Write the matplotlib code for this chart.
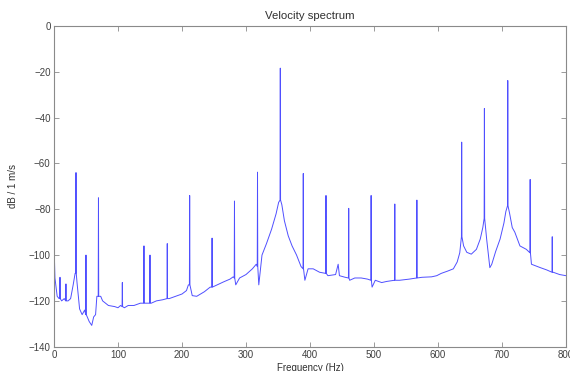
"""Velocity spectrum — MATLAB-style line plot of a harmonic spectrum."""

import matplotlib
matplotlib.use("Agg")
import matplotlib.pyplot as plt
import numpy as np

LINE = "#4f4fff"
AXIS = "#8a8a8a"
TEXT = "#404040"

# broadband floor of the spectrum (Hz, dB)
floor_hz = [0, 1.5, 5, 8, 12, 16, 22, 26, 30, 33, 36, 40, 44, 48, 52, 55, 59,
            62, 65, 67, 73, 76, 85, 95, 100, 104, 110, 116, 125, 135, 143, 152,
            160, 170, 180, 190, 200, 207, 210, 216, 223, 235, 244, 255, 265,
            275, 280, 284, 290, 300, 310, 316, 320, 325, 332, 340, 347, 351,
            356, 360, 366, 372, 379, 386, 392, 397, 405, 415, 424, 428, 440,
            444, 446, 455, 462, 470, 480, 490, 497, 502, 512, 520, 540, 555,
            575, 590, 598, 605, 615, 624, 630, 634, 640, 645, 652, 660, 666,
            670, 676, 681, 684, 690, 697, 703, 706, 712, 716, 720, 728, 738,
            746, 760, 770, 780, 790, 800]
floor_db = [-94.5, -110, -118, -119, -120, -119, -120, -119, -113, -108, -112,
            -123.5, -126, -124, -127, -129, -130.7, -127, -126, -118, -118,
            -120, -122, -122.5, -123, -122, -123, -122, -122, -121, -121, -121,
            -120, -119.5, -119, -118, -117, -115.5, -113, -117.7, -118, -116,
            -114, -113, -111.7, -110.5, -109.5, -113, -110, -108.5, -106, -104,
            -113, -100, -95, -88.7, -82, -77, -78, -85, -91.6, -96, -100, -105,
            -111, -106, -106, -107.5, -108, -109, -108.5, -104, -109, -109.7,
            -111, -110, -110, -110.5, -114, -111, -112, -111.5, -111, -110.5,
            -109.7, -109.5, -109, -108, -107, -106, -103, -99, -96, -98.8,
            -99.6, -97.5, -93, -88, -93, -105.5, -104, -98.5, -93, -86, -81,
            -82, -88, -90, -96, -97.5, -104, -105.5, -106.5, -107.5, -108.5,
            -109]

# narrow tonal lines: frequency, top level and level at their foot
peak_hz = [9.4, 18.7, 34.4, 50, 69.5, 106.8, 140.6, 150, 177, 212, 247, 282,
           318, 353.6, 389.5, 425, 460.5, 495.5, 532.5, 567, 637, 672.5, 709,
           744, 778.5]
peak_db = [-109.7, -112.6, -64, -100, -75, -112, -96, -100, -95, -74, -92.6,
           -76.4, -63.8, -18.4, -64.4, -74, -79.6, -74, -77.7, -76, -50.7, -36,
           -23.8, -67, -92]
peak_base_db = [-119, -120, -108, -126, -118, -122.5, -121, -121, -119, -113,
                -114, -110, -105, -76, -106, -108, -110, -111, -111, -110, -92,
                -84, -78.5, -99, -107.5]

x_ticks = [0, 100, 200, 300, 400, 500, 600, 700, 800]
y_ticks = [0, -20, -40, -60, -80, -100, -120, -140]


def _trace():
    pts = list(zip(floor_hz, floor_db))
    for f, top, base in zip(peak_hz, peak_db, peak_base_db):
        pts += [(f - 0.4, base), (f, top), (f + 0.4, base)]
    pts.sort(key=lambda p: p[0])
    arr = np.array(pts)
    return arr[:, 0], arr[:, 1]


plt.rcParams["font.family"] = ["Liberation Sans", "DejaVu Sans"]

fig = plt.figure(figsize=(5.70, 3.71), dpi=100)
ax = fig.add_axes([0.0947, 0.0655, 0.8983, 0.8644])

hz, db = _trace()
ax.plot(hz, db, color=LINE, linewidth=0.7)

ax.set_xlim(0, 800)
ax.set_ylim(-140, 0)
ax.set_xticks(x_ticks)
ax.set_yticks(y_ticks)
ax.tick_params(direction="in", length=3.5, width=0.6, colors=AXIS,
               labelcolor=TEXT, labelsize=7, top=True, right=True, pad=2.5)
for s in ax.spines.values():
    s.set_color(AXIS)
    s.set_linewidth(0.8)

ax.set_title("Velocity spectrum", fontsize=8.2, color="#303030", pad=5)
ax.set_xlabel("Frequency (Hz)", fontsize=7, color="#303030", labelpad=2)
ax.set_ylabel("dB / 1 m/s", fontsize=7, color="#303030", labelpad=8)

fig.savefig("out.png", dpi=100)
